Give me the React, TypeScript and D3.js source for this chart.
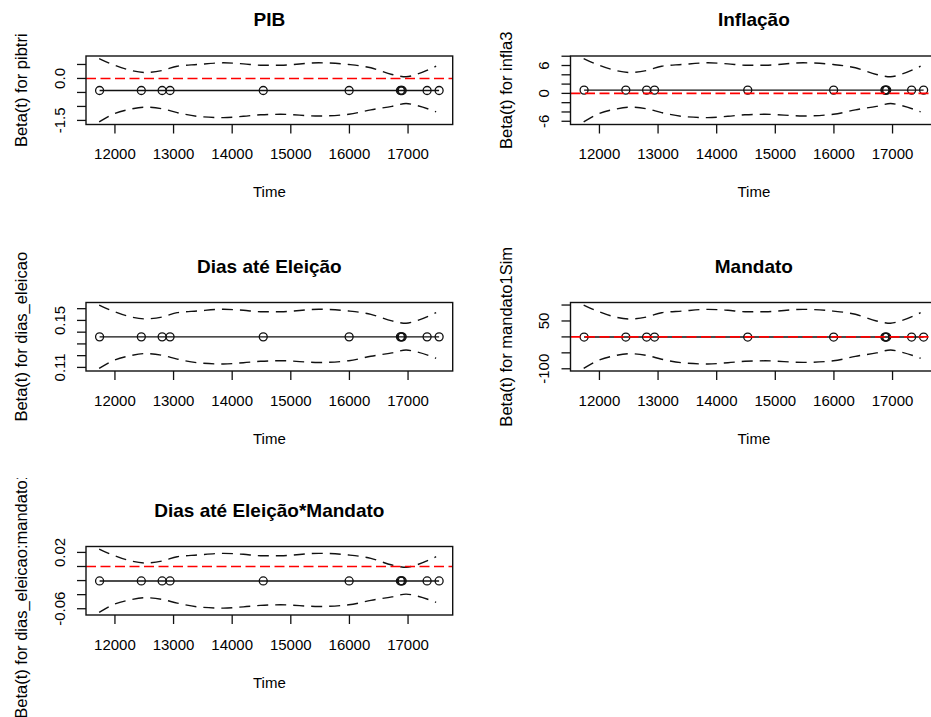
import React from 'react';
import * as d3 from 'd3';

// ---- data ----
const eventTimes = [11738, 12450, 12805, 12940, 14530, 15995, 16870, 16885, 16900, 17325, 17530];
const curveTimes = [11731, 11966, 12257, 12514, 12805, 13062, 13404, 13849, 14192, 14483, 14825, 15476, 15990, 16366, 16726, 16966, 17137, 17479];
const xTicks = [12000, 13000, 14000, 15000, 16000, 17000];

const pibCenter = -0.43;
const pibUpper = [0.712, 0.498, 0.295, 0.214, 0.285, 0.438, 0.498, 0.559, 0.523, 0.473, 0.473, 0.559, 0.498, 0.381, 0.142, 0.06, 0.142, 0.438];
const pibLower = [-1.555, -1.281, -1.103, -1.025, -1.085, -1.221, -1.352, -1.399, -1.352, -1.299, -1.281, -1.342, -1.281, -1.121, -0.996, -0.897, -0.961, -1.192];
const pibTicks = [0.5, 0, -0.5, -1, -1.5];
const pibLabels = ['', '0.0', '', '', '-1.5'];

const inflaCenter = 0.71;
const inflaUpper = [7.5, 6.21, 4.99, 4.5, 4.93, 5.85, 6.21, 6.58, 6.36, 6.06, 6.06, 6.58, 6.21, 5.51, 4.07, 3.58, 4.07, 5.85];
const inflaLower = [-6.15, -4.5, -3.43, -2.96, -3.32, -4.14, -4.93, -5.21, -4.93, -4.61, -4.5, -4.86, -4.5, -3.54, -2.79, -2.19, -2.57, -3.96];
const inflaTicks = [8, 6, 4, 2, 0, -2, -4, -6];
const inflaLabels = ['', '6', '', '', '0', '', '', '-6'];

const diasCenter = 0.136;
const diasUpper = [0.1631, 0.158, 0.1532, 0.1513, 0.1529, 0.1566, 0.158, 0.1595, 0.1586, 0.1574, 0.1574, 0.1595, 0.158, 0.1552, 0.1496, 0.1476, 0.1496, 0.1566];
const diasLower = [0.1091, 0.1157, 0.1199, 0.1218, 0.1203, 0.1171, 0.114, 0.1129, 0.114, 0.1152, 0.1157, 0.1142, 0.1157, 0.1195, 0.1224, 0.1248, 0.1233, 0.1178];
const diasTicks = [0.16, 0.15, 0.14, 0.13, 0.12, 0.11];
const diasLabels = ['', '0.15', '', '', '', '0.11'];

const mandCenter = -0.5;
const mandUpper = [100, 81, 63, 56, 62.5, 76, 81, 86.5, 83.5, 79, 79, 86.5, 81, 71, 50, 43, 50, 76];
const mandLower = [-99, -75, -59, -52.5, -58, -70, -81, -85, -81, -76.5, -75, -80, -75, -61, -50, -41, -47, -67];
const mandTicks = [100, 50, 0, -50, -100];
const mandLabels = ['', '50', '', '', '-100'];

const interCenter = -0.0205;
const interUpper = [0.0248, 0.0163, 0.0082, 0.005, 0.0078, 0.0139, 0.0163, 0.0187, 0.0173, 0.0153, 0.0153, 0.0187, 0.0163, 0.0116, 0.0021, -0.0011, 0.0021, 0.0139];
const interLower = [-0.0653, -0.0544, -0.0474, -0.0443, -0.0467, -0.052, -0.0573, -0.0591, -0.0573, -0.0552, -0.0544, -0.0568, -0.0544, -0.0481, -0.0431, -0.0392, -0.0417, -0.0509];
const interTicks = [0.02, 0, -0.02, -0.04, -0.06];
const interLabels = ['0.02', '', '', '', '-0.06'];

const titles = ['PIB', 'Inflação', 'Dias até Eleição', 'Mandato', 'Dias até Eleição*Mandato'];
const ylabs = ['Beta(t) for pibtri', 'Beta(t) for infla3', 'Beta(t) for dias_eleicao', 'Beta(t) for mandato1Sim', 'Beta(t) for dias_eleicao:mandato1Sim'];

// ---- layout ----
const W = 931;
const H = 717;
const FONT = "'Liberation Sans', Arial, sans-serif";
const colX = [[86, 452.7], [570.5, 937.2]];
const rowY = [[56, 124.5], [302.5, 371], [546.5, 615]];
const rowClip = [[0, 239], [239, 478], [478, 717]];

interface PanelDef {
  title: string; ylab: string; center: number; upper: number[]; lower: number[];
  ticks: number[]; labels: string[]; col: number; row: number;
}

const panels: PanelDef[] = [
  { title: titles[0], ylab: ylabs[0], center: pibCenter, upper: pibUpper, lower: pibLower, ticks: pibTicks, labels: pibLabels, col: 0, row: 0 },
  { title: titles[1], ylab: ylabs[1], center: inflaCenter, upper: inflaUpper, lower: inflaLower, ticks: inflaTicks, labels: inflaLabels, col: 1, row: 0 },
  { title: titles[2], ylab: ylabs[2], center: diasCenter, upper: diasUpper, lower: diasLower, ticks: diasTicks, labels: diasLabels, col: 0, row: 1 },
  { title: titles[3], ylab: ylabs[3], center: mandCenter, upper: mandUpper, lower: mandLower, ticks: mandTicks, labels: mandLabels, col: 1, row: 1 },
  { title: titles[4], ylab: ylabs[4], center: interCenter, upper: interUpper, lower: interLower, ticks: interTicks, labels: interLabels, col: 0, row: 2 },
];

function Panel({ p, idx }: { p: PanelDef; idx: number }) {
  const [x0, x1] = colX[p.col];
  const [y0, y1] = rowY[p.row];
  const tExt = d3.extent(eventTimes) as [number, number];
  const tPad = (tExt[1] - tExt[0]) * 0.04;
  const x = d3.scaleLinear().domain([tExt[0] - tPad, tExt[1] + tPad]).range([x0, x1]);
  const allY = [...p.upper, ...p.lower, p.center];
  const yExt = d3.extent(allY) as [number, number];
  const yPad = (yExt[1] - yExt[0]) * 0.04;
  const y = d3.scaleLinear().domain([yExt[0] - yPad, yExt[1] + yPad]).range([y1, y0]);

  const line = d3.line<[number, number]>().x(d => x(d[0])).y(d => y(d[1])).curve(d3.curveMonotoneX);
  const upPts: [number, number][] = curveTimes.map((t, i) => [t, p.upper[i]]);
  const loPts: [number, number][] = curveTimes.map((t, i) => [t, p.lower[i]]);
  const cx = (x0 + x1) / 2;
  const cy = (y0 + y1) / 2;
  const [cTop, cBot] = rowClip[p.row];
  const clipId = `box${idx}`;
  const labClip = `lab${idx}`;
  return (
    <g>
      <defs>
        <clipPath id={clipId}><rect x={x0} y={y0} width={x1 - x0} height={y1 - y0} /></clipPath>
        <clipPath id={labClip}><rect x={0} y={cTop} width={W} height={cBot - cTop} /></clipPath>
      </defs>
      <text x={cx} y={y0 - 30} textAnchor="middle" fontFamily={FONT} fontWeight="bold" fontSize={19} fill="#000">{p.title}</text>
      <g clipPath={`url(#${clipId})`}>
        <path d={line(upPts) || ''} fill="none" stroke="#111" strokeWidth={1.4} strokeDasharray="11 7" />
        <path d={line(loPts) || ''} fill="none" stroke="#111" strokeWidth={1.4} strokeDasharray="11 7" />
        <line x1={x(d3.min(eventTimes)!)} x2={x(d3.max(eventTimes)!)} y1={y(p.center)} y2={y(p.center)} stroke="#111" strokeWidth={1.4} />
        {eventTimes.map((t, i) => (
          <circle key={i} cx={x(t)} cy={y(p.center)} r={4} fill="none" stroke="#111" strokeWidth={1.3} />
        ))}
        <line x1={x0} x2={x1} y1={y(0)} y2={y(0)} stroke="#ff0000" strokeWidth={1.6} strokeDasharray="10 4.5" />
      </g>
      <rect x={x0} y={y0} width={x1 - x0} height={y1 - y0} fill="none" stroke="#111" strokeWidth={1.4} />
      {xTicks.map((t, i) => (
        <g key={i}>
          <line x1={x(t)} x2={x(t)} y1={y1} y2={y1 + 9} stroke="#111" strokeWidth={1.3} />
          <text x={x(t)} y={y1 + 34.5} textAnchor="middle" fontFamily={FONT} fontSize={15} fill="#000">{String(t)}</text>
        </g>
      ))}
      <text x={cx} y={y1 + 72.5} textAnchor="middle" fontFamily={FONT} fontSize={15} fill="#000">Time</text>
      {p.ticks.map((v, i) => (
        <g key={i}>
          <line x1={x0 - 9} x2={x0} y1={y(v)} y2={y(v)} stroke="#111" strokeWidth={1.3} />
          {p.labels[i] ? (
            <text transform={`translate(${x0 - 21.5},${y(v)}) rotate(-90)`} textAnchor="middle" fontFamily={FONT} fontSize={15} fill="#000">{p.labels[i]}</text>
          ) : null}
        </g>
      ))}
      <g clipPath={`url(#${labClip})`}>
        <text transform={`translate(${x0 - 59},${cy}) rotate(-90)`} textAnchor="middle" fontFamily={FONT} fontSize={16.5} fill="#000">{p.ylab}</text>
      </g>
    </g>
  );
}

export default function App() {
  return (
    <svg width={W} height={H} style={{ position: 'absolute', left: 0, top: 0, background: '#fff' }}>
      <rect x={0} y={0} width={W} height={H} fill="#fff" />
      {panels.map((p, i) => <Panel key={i} p={p} idx={i} />)}
    </svg>
  );
}
